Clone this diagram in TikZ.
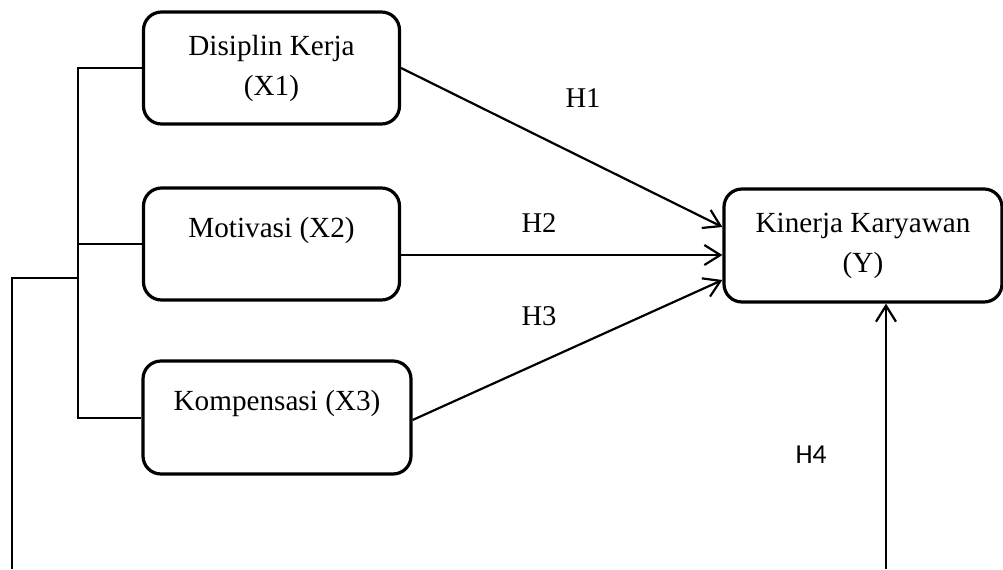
\documentclass[tikz,border=0pt]{standalone}
\usepackage{fontspec}
\setmainfont{Liberation Serif}
\newfontfamily\hfont{Carlito}
\usetikzlibrary{arrows.meta,positioning}
\tikzset{
  var/.style={draw, line width=1.6pt, rounded corners=9pt, align=center,
    font=\fontsize{14.6}{20}\selectfont, inner sep=0pt},
  oneline/.style={text depth=17pt},
  link/.style={line width=1pt},
  hyp/.style={line width=1.1pt, -{Straight Barb[length=8pt,width=10pt,line width=1.1pt]}},
  hlabel/.style={font=\fontsize{14.3}{17}\selectfont, inner sep=0pt},
  hlabelsans/.style={font=\hfont\fontsize{13.7}{16}\selectfont, inner sep=0pt}
}
\begin{document}
\begin{tikzpicture}[x=0.5pt,y=-0.5pt]
  \useasboundingbox (0,0) rectangle (1003,569);

  % variables
  \node[var, minimum width=128pt, minimum height=56pt] (dk) at (271.5,68)
    {Disiplin Kerja\\(X1)};
  \node[var, oneline, minimum width=128pt, minimum height=56pt] (mt) at (271.5,244)
    {Motivasi (X2)};
  \node[var, oneline, minimum width=134pt, minimum height=56.5pt] (kp) at (277,417.5)
    {Kompensasi (X3)};
  \node[var, minimum width=139pt, minimum height=56.5pt] (ky) at (863,245.5)
    {Kinerja Karyawan\\(Y)};

  % left bracket joining X1..X3
  \coordinate (jn) at (78,278);
  \coordinate (fd) at (12,569);
  \coordinate (h4) at (886,569);
  \draw[link] (dk.west) -| (jn) |- (kp.west);
  \draw[link] (mt.west) -- (mt.west -| jn);
  \draw[link] (fd) |- (jn);

  % hypotheses
  \draw[hyp] (dk.east) -- ([yshift=9.25pt]ky.west);
  \draw[hyp] ([yshift=-5.5pt]mt.east) -- ([yshift=-5.5pt]mt.east -| ky.west);
  \draw[hyp] ([yshift=-1.25pt]kp.east) -- ([yshift=-17.25pt]ky.west);
  \draw[hyp] (h4) -- (h4 |- ky.south);

  \node[hlabel] (l1) at (583,98) {H1};
  \node[hlabel] (l2) at (539,223) {H2};
  \begin{scope}
    \clip (500,290) rectangle (600,325);
    \node[hlabel] (l3) at (539,316) {H3};
  \end{scope}
  \node[hlabelsans] (l4) at (811,455) {H4};
\end{tikzpicture}
\end{document}
